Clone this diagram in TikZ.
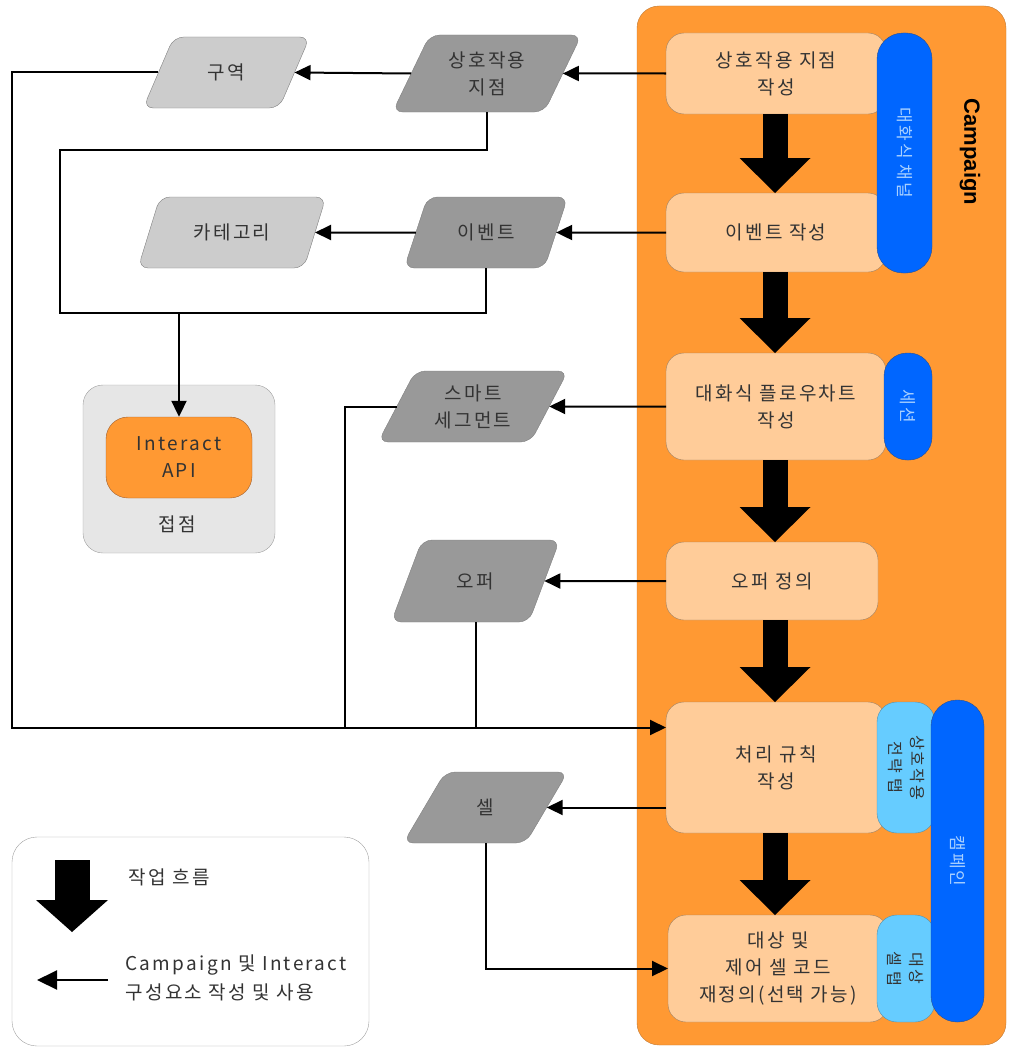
\documentclass[tikz,border=0pt]{standalone}
\usepackage{fontspec}
\setmainfont{Noto Sans CJK KR}[LetterSpace=12]
\newfontfamily\campfont{Liberation Sans}
\usetikzlibrary{positioning,shapes.geometric,arrows.meta}

\definecolor{campOrange}{HTML}{FF9933}
\definecolor{campEdge}{HTML}{C07A35}
\definecolor{stepFill}{HTML}{FFCC99}
\definecolor{stepEdge}{HTML}{A08060}
\definecolor{tabBlue}{HTML}{0066FF}
\definecolor{tabEdge}{HTML}{2A4F8F}
\definecolor{tabText}{HTML}{A8D0FF}
\definecolor{subBlue}{HTML}{66CCFF}
\definecolor{subEdge}{HTML}{5A8FA8}
\definecolor{dataGray}{HTML}{999999}
\definecolor{lightGray}{HTML}{CCCCCC}
\definecolor{dataEdge}{HTML}{808080}
\definecolor{touchGray}{HTML}{E6E6E6}
\definecolor{edgeGray}{HTML}{A0A0A0}
\definecolor{textGray}{HTML}{333333}
\definecolor{apiEdge}{HTML}{A06030}

\begin{document}
\begin{tikzpicture}[x=1pt, y=-1pt, node distance=0pt,
font=\fontsize{19}{27}\selectfont,
CampStyle/.style={draw=campEdge, fill=campOrange, rounded corners=22pt,
                minimum width=369pt, minimum height=1039pt, outer sep=0pt},
StepStyle/.style={draw=stepEdge, fill=stepFill, text=textGray, rounded corners=18pt,
                minimum width=220pt, align=center, outer sep=0pt},
ChannelStyle/.style={draw=tabEdge, fill=tabBlue, text=tabText, rounded corners=26pt,
                rotate=-90, font=\fontsize{17}{20}\selectfont, outer sep=0pt},
SubTabStyle/.style={draw=subEdge, fill=subBlue, text=textGray, rounded corners=20pt,
                rotate=-90, align=center, font=\fontsize{16}{22}\selectfont, outer sep=0pt},
DataStyle/.style={trapezium, trapezium left angle=62, trapezium right angle=118,
                trapezium stretches, draw=dataEdge, fill=dataGray, text=textGray,
                rounded corners=10pt, align=center, outer sep=0pt},
LightData/.style={DataStyle, fill=lightGray},
Line/.style={line width=2pt},
Link/.style={Line, -{Triangle[length=16pt, width=15pt]}},
FlowArrow/.style={line width=25pt, -{Triangle[length=35pt, width=71pt, line width=0pt]}},]
\useasboundingbox (0,0) rectangle (1010,1049);
\node [CampStyle] (camp) at (821.5,525.5) {};

% Campaign steps
\node [StepStyle, minimum height=81pt] (defIP) at (776,73.5) {상호작용 지점\\작성};
\node [StepStyle, minimum height=79pt] (defEvent) at (776,232.5) {이벤트 작성};
\node [StepStyle, minimum height=107pt] (defFlow) at (776,406.5) {대화식 플로우차트\\작성};
\node [StepStyle, minimum width=212pt, minimum height=78pt] (defOffer) at (772,581) {오퍼 정의};
\node [StepStyle, minimum height=131pt] (defRule) at (776,767.5) {처리 규칙\\작성};
\node [StepStyle, minimum height=107pt] (defCell) at (778,968.5) {대상 및\\제어 셀 코드\\재정의(선택 가능)};

% tabs
\node [SubTabStyle, minimum width=131pt, minimum height=58pt] (stratTab) at (906,767.5) {상호작용\\전략 탭};
\node [SubTabStyle, minimum width=107pt, minimum height=58pt] (cellTab) at (906,968.5) {대상\\셀 탭};
\node [ChannelStyle, minimum width=240pt, minimum height=55pt] (chanTab) at (904.5,153) {대화식 채널};
\node [ChannelStyle, minimum width=107pt, minimum height=48pt, rounded corners=23pt] (sessTab) at (908,406.5) {세션};
\node [ChannelStyle, minimum width=322pt, minimum height=53pt] (campTab) at (957.5,861) {캠페인};
\node [rotate=-90, font=\campfont\bfseries\fontsize{22}{22}\selectfont] (campLabel) at (970,152) {Campaign};

\foreach \a/\b in {defIP/defEvent, defEvent/defFlow, defFlow/defOffer, defOffer/defRule, defRule/defCell}
  \draw [FlowArrow] (\a.south -| 775,0) -- (\b.north -| 775,0);

% components
\node [DataStyle, minimum width=189pt, minimum height=77pt] (ipData) at (487,73.5) {상호작용\\지점};
\node [LightData, minimum width=167pt, minimum height=71pt] (zoneData) at (226.5,72.5) {구역};
\node [DataStyle, minimum width=164pt, minimum height=71pt] (eventData) at (486,232.5) {이벤트};
\node [LightData, minimum width=188pt, minimum height=71pt] (catData) at (232,232.5) {카테고리};
\node [DataStyle, minimum width=190pt, minimum height=71pt] (segData) at (473,406.5) {스마트\\세그먼트};
\node [DataStyle, minimum width=169pt, minimum height=82pt] (offerData) at (475.5,581) {오퍼};
\node [DataStyle, minimum width=165pt, minimum height=71pt] (cellData) at (485.5,807.5) {셀};

% touchpoint
\node [draw=edgeGray, fill=touchGray, rounded corners=20pt, minimum width=192pt,
       minimum height=168pt] (touch) at (179,469) {};
\node [draw=apiEdge, fill=campOrange, rounded corners=22pt, minimum width=146pt,
       minimum height=81pt, align=center, text=textGray] (api) at (179,457.5) {Interact\\API};
\node [text=textGray] (touchLabel) at (177,524) {접점};

% connectors
\coordinate (ruleIn) at ([yshift=40pt]defRule.west);
\draw [Link] (defIP.west) -- (ipData.east);
\draw [Link] (ipData.west) -- (zoneData.east);
\draw [Link] (defEvent.west) -- (eventData.east);
\draw [Link] (eventData.west) -- (catData.east);
\draw [Link] (defFlow.west) -- (segData.east);
\draw [Link] (defOffer.west) -- (offerData.east);
\draw [Link] (cellData.east -| defRule.west) -- (cellData.east);
\draw [Link] (zoneData.west) -- (zoneData.west -| 12,0) |- (ruleIn);
\draw [Line] (segData.west) -| (ruleIn -| 345,0);
\draw [Line] (offerData.south -| offerData.center) -- (ruleIn -| offerData.center);
\draw [Line] (ipData.south -| ipData.center) |- (60,150) |- (eventData.center |- 0,313)
             -- (eventData.south -| eventData.center);
\coordinate (apiJoin) at (api.north |- 0,313);
\draw [Link] (apiJoin) -- (api.north);
\draw [Link] (cellData.south -| cellData.center) |- (defCell.west);

% legend
\node [draw=edgeGray, fill=white, rounded corners=25pt, minimum width=357pt,
       minimum height=209pt] (legend) at (190.5,941.5) {};
\coordinate (flowTop) at (72,860);
\coordinate (flowTip) at (72,932);
\draw [FlowArrow, line width=35pt, -{Triangle[length=32pt, width=72pt, line width=0pt]}] (flowTop) -- (flowTip);
\node [anchor=west, text=textGray] (flowText) at (125,877) {작업 흐름};
\coordinate (useFrom) at (108,980);
\coordinate (useTo) at (37,980);
\draw [Line, -{Triangle[length=20pt, width=19pt]}] (useFrom) -- (useTo);
\node [anchor=west, align=left, text=textGray, font=\fontsize{19}{29}\selectfont] (useText)
      at (122,978) {Campaign 및 Interact\\구성요소 작성 및 사용};
\end{tikzpicture}
\end{document}
